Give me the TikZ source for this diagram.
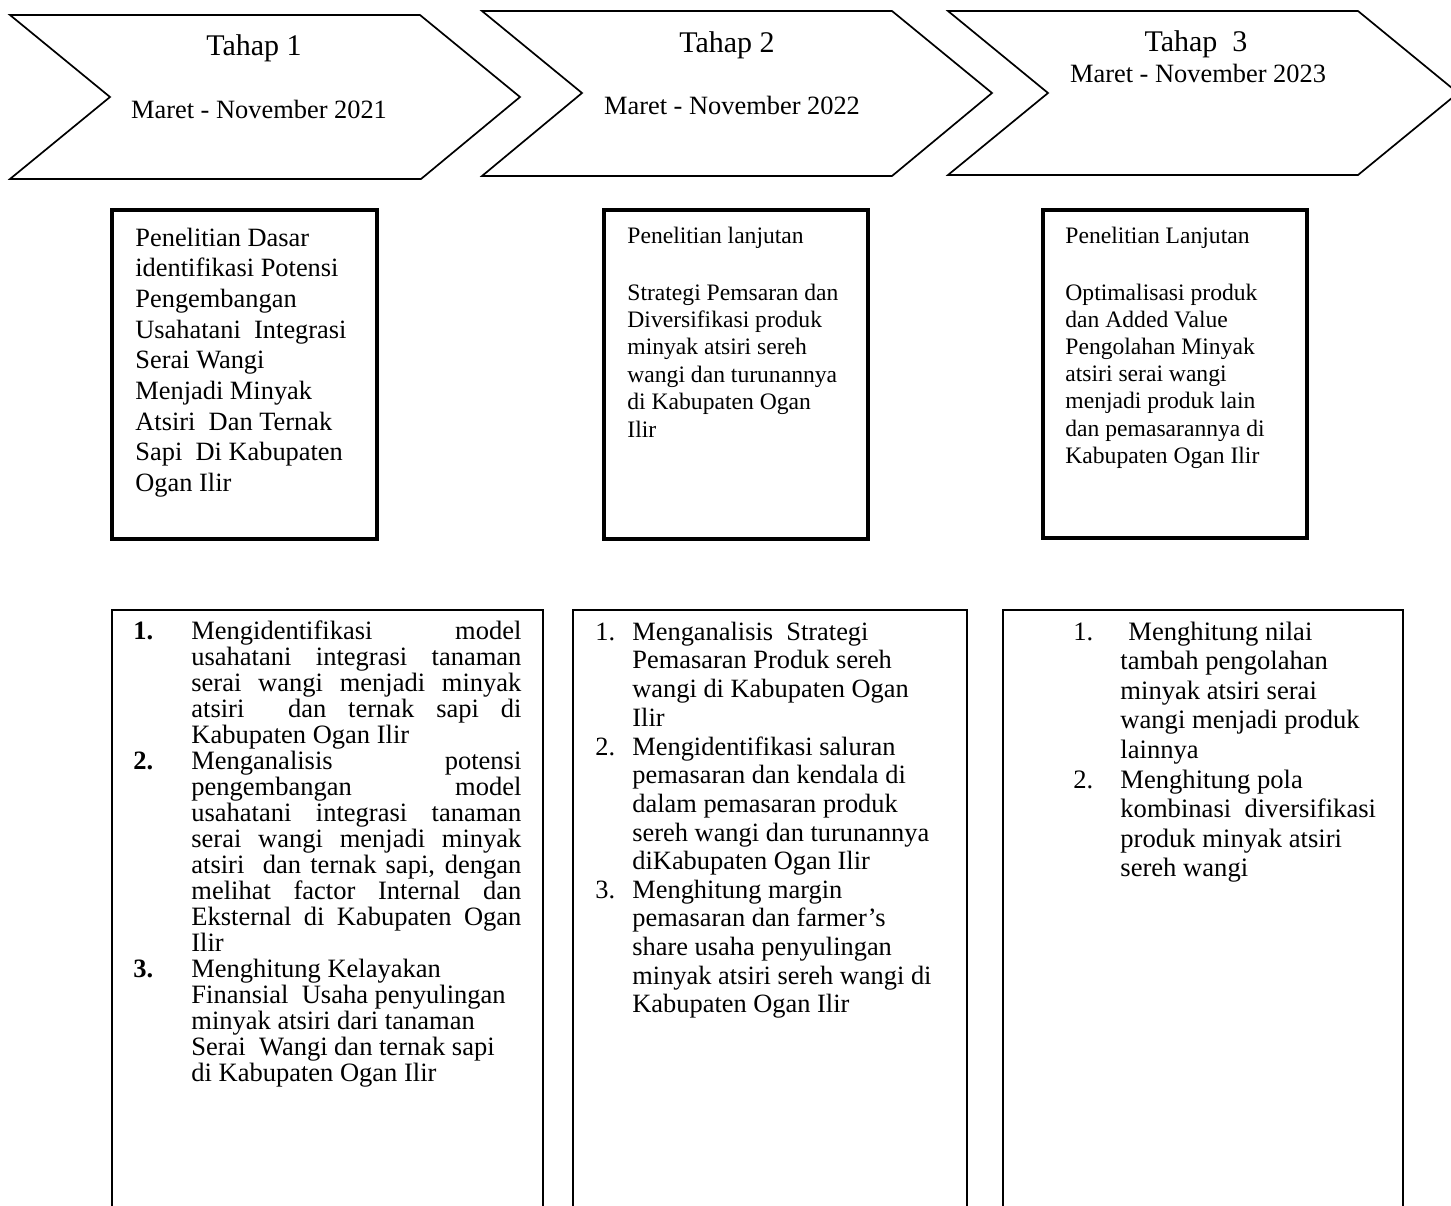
\documentclass[tikz,border=0pt]{standalone}
\usepackage{fontspec}
\setmainfont{Liberation Serif}
\newcommand\jl[1]{{\spaceskip=0pt\xspaceskip=0pt\makebox[165pt][s]{#1}}}
\hbadness=10000
\tikzset{
  chev/.style={draw=black, line width=0.85pt, line join=miter},
  midbox/.style={draw=black, line width=1.7pt},
  lowbox/.style={draw=black, line width=1.15pt},
  tahap/.style={anchor=base, inner sep=0pt, font=\fontsize{15}{18}\selectfont},
  periode/.style={anchor=base, inner sep=0pt, font=\fontsize{13.2}{16}\selectfont},
  txt/.style={anchor=base west, inner sep=0pt, align=flush left, text width=#1},
  num/.style={anchor=base west, inner sep=0pt},
}
\begin{document}
\begin{tikzpicture}[x=0.5pt, y=-0.5pt]
\fill[white] (0,0) rectangle (1451,1205);
\useasboundingbox (0,0) rectangle (1451,1205);
\begin{scope}
\clip (0,0) rectangle (1451,1205);
% chevrons
\draw[chev] (10,15) -- (420,15) -- (520,97) -- (421,179) -- (10,179) -- (110,97) -- cycle;
\draw[chev] (482,11) -- (892,11) -- (992,93) -- (892,176) -- (482,176) -- (582,93) -- cycle;
\draw[chev] (948,11) -- (1358,11) -- (1458,93) -- (1358,175) -- (948,175) -- (1048,93) -- cycle;
% middle boxes
\draw[midbox] (112,210) rectangle (377,539);
\draw[midbox] (604,210) rectangle (868,539);
\draw[midbox] (1043,210) rectangle (1307,538);
% lower boxes (open at bottom of the page)
\draw[lowbox] (112,1206) -- (112,610) -- (543,610) -- (543,1206);
\draw[lowbox] (573,1206) -- (573,610) -- (967,610) -- (967,1206);
\draw[lowbox] (1003,1206) -- (1003,610) -- (1403,610) -- (1403,1206);
\end{scope}

% chevron labels
\node[tahap] (t1) at (254,55) {Tahap 1};
\node[periode] (p1) at (259,118) {Maret - November 2021};
\node[tahap] (t2) at (727,52) {Tahap 2};
\node[periode] (p2) at (732,114) {Maret - November 2022};
\node[tahap] (t3) at (1196,51) {Tahap\ \ 3};
\node[periode] (p3) at (1198,82) {Maret - November 2023};

% middle box texts
\node[txt=130pt, font=\fontsize{13.2}{15.35}\selectfont] (m1) at (135,246)
 {Penelitian Dasar\\identifikasi Potensi\\Pengembangan\\Usahatani\ \ Integrasi\\Serai Wangi\\Menjadi Minyak\\Atsiri\ \ Dan Ternak\\Sapi\ \ Di Kabupaten\\Ogan Ilir};
\node[txt=120pt, font=\fontsize{11.8}{13.7}\selectfont] (m2h) at (627,243) {Penelitian lanjutan};
\node[txt=120pt, font=\fontsize{11.8}{13.7}\selectfont] (m2) at (627,300)
 {Strategi Pemsaran dan\\Diversifikasi produk\\minyak atsiri sereh\\wangi dan turunannya\\di Kabupaten Ogan\\Ilir};
\node[txt=120pt, font=\fontsize{11.8}{13.6}\selectfont] (m3h) at (1065,243) {Penelitian Lanjutan};
\node[txt=120pt, font=\fontsize{11.8}{13.6}\selectfont] (m3) at (1065,300)
 {Optimalisasi produk\\dan Added Value\\Pengolahan Minyak\\atsiri serai wangi\\menjadi produk lain\\dan pemasarannya di\\Kabupaten Ogan Ilir};

% lower box 1
\node[num, font=\fontsize{13.25}{13}\selectfont\bfseries] (n11) at (133,639) {1.};
\node[num, font=\fontsize{13.25}{13}\selectfont\bfseries] (n12) at (133,769) {2.};
\node[num, font=\fontsize{13.25}{13}\selectfont\bfseries] (n13) at (133,977) {3.};
\node[txt=170pt, font=\fontsize{13.25}{13}\selectfont] (a11) at (191,639)
 {\jl{Mengidentifikasi model}\\\jl{usahatani integrasi tanaman}\\\jl{serai wangi menjadi minyak}\\\jl{atsiri\ \ dan ternak sapi di}\\Kabupaten Ogan Ilir};
\node[txt=170pt, font=\fontsize{13.25}{13}\selectfont] (a12) at (191,769)
 {\jl{Menganalisis potensi}\\\jl{pengembangan model}\\\jl{usahatani integrasi tanaman}\\\jl{serai wangi menjadi minyak}\\\jl{atsiri\ \ dan ternak sapi, dengan}\\\jl{melihat factor Internal dan}\\\jl{Eksternal di Kabupaten Ogan}\\Ilir};
\node[txt=170pt, font=\fontsize{13.25}{13}\selectfont] (a13) at (191,977)
 {Menghitung Kelayakan\\Finansial\ \ Usaha penyulingan\\minyak atsiri dari tanaman\\Serai\ \ Wangi dan ternak sapi\\di Kabupaten Ogan Ilir};

% lower box 2
\node[num, font=\fontsize{13.2}{14.35}\selectfont] (n21) at (595,640) {1.};
\node[num, font=\fontsize{13.2}{14.35}\selectfont] (n22) at (595,755) {2.};
\node[num, font=\fontsize{13.2}{14.35}\selectfont] (n23) at (595,898) {3.};
\node[txt=165pt, font=\fontsize{13.2}{14.35}\selectfont] (a21) at (632,640)
 {Menganalisis\ \ Strategi\\Pemasaran Produk sereh\\wangi di Kabupaten Ogan\\Ilir};
\node[txt=165pt, font=\fontsize{13.2}{14.35}\selectfont] (a22) at (632,755)
 {Mengidentifikasi saluran\\pemasaran dan kendala di\\dalam pemasaran produk\\sereh wangi dan turunannya\\diKabupaten Ogan Ilir};
\node[txt=165pt, font=\fontsize{13.2}{14.35}\selectfont] (a23) at (632,898)
 {Menghitung margin\\pemasaran dan farmer’s\\share usaha penyulingan\\minyak atsiri sereh wangi di\\Kabupaten Ogan Ilir};

% lower box 3
\node[num, font=\fontsize{13.3}{14.8}\selectfont] (n31) at (1073,640) {1.};
\node[num, font=\fontsize{13.3}{14.8}\selectfont] (n32) at (1073,788) {2.};
\node[txt=140pt, font=\fontsize{13.3}{14.8}\selectfont] (a31) at (1120,640)
 {\hspace*{4pt}Menghitung nilai\\tambah pengolahan\\minyak atsiri serai\\wangi menjadi produk\\lainnya};
\node[txt=140pt, font=\fontsize{13.3}{14.8}\selectfont] (a32) at (1120,788)
 {Menghitung pola\\kombinasi\ \ diversifikasi\\produk minyak atsiri\\sereh wangi};
\end{tikzpicture}
\end{document}
